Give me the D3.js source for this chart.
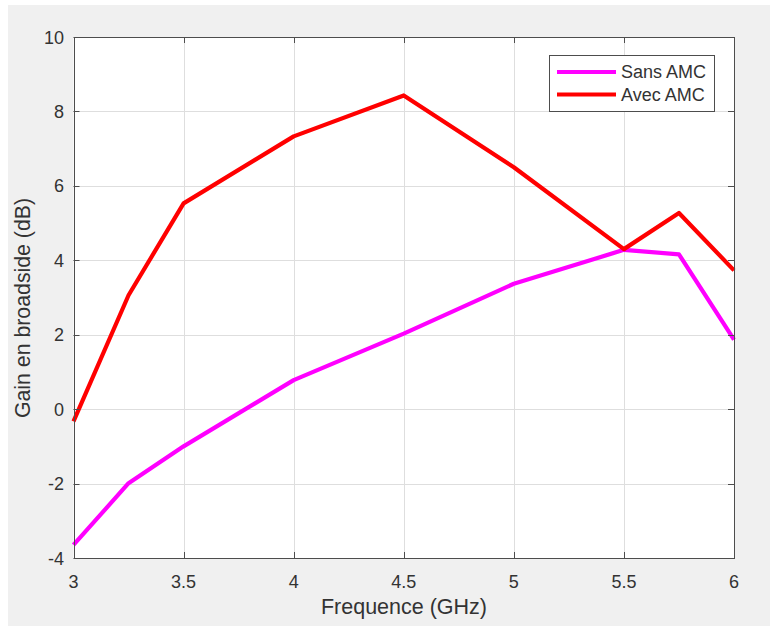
<!DOCTYPE html>
<html>
<head>
<meta charset="utf-8">
<script src="https://cdn.jsdelivr.net/npm/d3@7"></script>
<style>
  html, body { margin: 0; padding: 0; background: #ffffff; }
  svg { display: block; }
  text { font-family: Arial, "Liberation Sans", Helvetica, sans-serif; }
</style>
</head>
<body>
<script>
// ---- data ----
const frequencies = [3, 3.25, 3.5, 4, 4.5, 5, 5.5, 5.75, 6];
const sansAMC = [-3.65, -1.99, -1.0, 0.78, 2.03, 3.37, 4.28, 4.16, 1.87];
const avecAMC = [-0.33, 3.06, 5.53, 7.33, 8.43, 6.5, 4.3, 5.27, 3.73];
const seriesNames = ["Sans AMC", "Avec AMC"];
const seriesColors = ["#ff00ff", "#ff0000"];
const xTicks = [3, 3.5, 4, 4.5, 5, 5.5, 6];
const yTicks = [-4, -2, 0, 2, 4, 6, 8, 10];
const xLabel = "Frequence (GHz)";
const yLabel = "Gain en broadside (dB)";

const W = 770, H = 626;
const svg = d3.select("body").append("svg").attr("width", W).attr("height", H);

// figure background
svg.append("rect").attr("x", 8).attr("y", 5).attr("width", W - 8).attr("height", H - 5).attr("fill", "#f0f0f0");

const L = 73.5, R = 734, T = 37, B = 558;
const x = d3.scaleLinear().domain([3, 6]).range([L, R]);
const y = d3.scaleLinear().domain([-4, 10]).range([B, T]);

// plot area
svg.append("rect").attr("x", L).attr("y", T).attr("width", R - L).attr("height", B - T).attr("fill", "#ffffff");

// grid
const grid = svg.append("g").attr("stroke", "#dedede").attr("stroke-width", 1);
xTicks.forEach(t => {
  grid.append("line").attr("x1", Math.round(x(t)) + 0.5).attr("x2", Math.round(x(t)) + 0.5)
    .attr("y1", T).attr("y2", B);
});
yTicks.forEach(t => {
  grid.append("line").attr("y1", Math.round(y(t)) + 0.5).attr("y2", Math.round(y(t)) + 0.5)
    .attr("x1", L).attr("x2", R);
});

// lines
const line = d3.line().x((d, i) => x(frequencies[i])).y(d => y(d));
[sansAMC, avecAMC].forEach((s, k) => {
  svg.append("path").datum(s).attr("d", line)
    .attr("fill", "none").attr("stroke", seriesColors[k]).attr("stroke-width", 4.2)
    .attr("stroke-linejoin", "round").attr("stroke-linecap", "butt");
});

// axes box and ticks
const axisColor = "#4d4d4d";
const tickLen = 6;
const axG = svg.append("g").attr("stroke", axisColor).attr("stroke-width", 1).attr("fill", "none");
axG.append("rect").attr("x", Math.round(L) + 0.5).attr("y", Math.round(T) + 0.5)
  .attr("width", Math.round(R) - Math.round(L)).attr("height", Math.round(B) - Math.round(T));
xTicks.forEach(t => {
  const px = Math.round(x(t)) + 0.5;
  axG.append("line").attr("x1", px).attr("x2", px).attr("y1", B).attr("y2", B - tickLen);
  axG.append("line").attr("x1", px).attr("x2", px).attr("y1", T).attr("y2", T + tickLen);
});
yTicks.forEach(t => {
  const py = Math.round(y(t)) + 0.5;
  axG.append("line").attr("y1", py).attr("y2", py).attr("x1", L).attr("x2", L + tickLen);
  axG.append("line").attr("y1", py).attr("y2", py).attr("x1", R).attr("x2", R - tickLen);
});

// tick labels
const tickColor = "#333333";
svg.append("g").selectAll("text").data(xTicks).join("text")
  .attr("x", d => x(d)).attr("y", 588).attr("text-anchor", "middle")
  .attr("font-size", 18).attr("fill", tickColor).text(d => d3.format("")(d));
svg.append("g").selectAll("text").data(yTicks).join("text")
  .attr("x", 64).attr("y", d => y(d) + 6.5).attr("text-anchor", "end")
  .attr("font-size", 18).attr("fill", tickColor).text(d => d);

// axis labels
svg.append("text").attr("x", 404).attr("y", 614).attr("text-anchor", "middle")
  .attr("font-size", 21.5).attr("fill", tickColor).text(xLabel);
svg.append("text").attr("transform", `translate(30, 308) rotate(-90)`)
  .attr("text-anchor", "middle").attr("font-size", 21.3).attr("fill", tickColor).text(yLabel);

// legend
const lg = svg.append("g");
lg.append("rect").attr("x", 549.5).attr("y", 55.5).attr("width", 165).attr("height", 56)
  .attr("fill", "#ffffff").attr("stroke", axisColor).attr("stroke-width", 1);
seriesNames.forEach((n, i) => {
  const cy = 72 + i * 22.5;
  lg.append("line").attr("x1", 557).attr("x2", 616).attr("y1", cy).attr("y2", cy)
    .attr("stroke", seriesColors[i]).attr("stroke-width", 4);
  lg.append("text").attr("x", 621).attr("y", cy + 6).attr("font-size", 18)
    .attr("fill", tickColor).text(n);
});
</script>
</body>
</html>
